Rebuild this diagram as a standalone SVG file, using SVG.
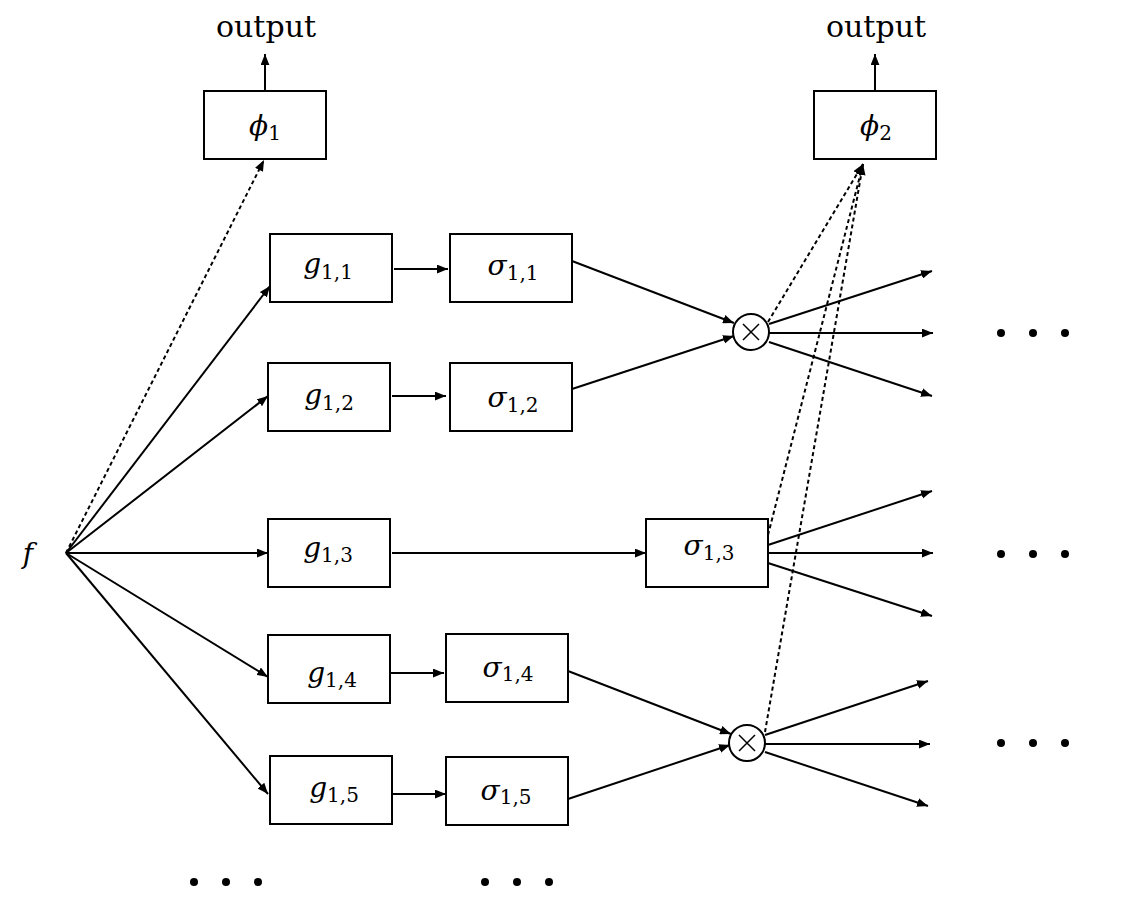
<svg xmlns="http://www.w3.org/2000/svg" width="1134" height="918" viewBox="0 0 1134 918">
<style>
.box{fill:#fff;stroke:#000;stroke-width:2}
.ln{stroke:#000;stroke-width:2;fill:none;marker-end:url(#ah)}
.dt{stroke:#000;stroke-width:2;fill:none;stroke-dasharray:4 3;marker-end:url(#ah)}
.lbl{font-family:"DejaVu Serif","Liberation Serif",serif;font-size:28px;text-anchor:middle;fill:#000}
.out{font-family:"DejaVu Serif","Liberation Serif",serif;font-size:30px;text-anchor:middle;fill:#000}
.it{font-style:italic}
.sub{font-size:20px;font-style:normal}
.dot{fill:#000}
</style>
<defs>
<marker id="ah" viewBox="0 0 10 8" refX="10" refY="4" markerWidth="11" markerHeight="9" markerUnits="userSpaceOnUse" orient="auto">
<path d="M0,0 L10,4 L0,8 z" fill="#000"/>
</marker>
</defs>
<g id="connectors">
<line class="ln" x1="265" y1="91" x2="265" y2="54"/>
<line class="ln" x1="875" y1="91" x2="875" y2="54"/>
<line class="dt" x1="66" y1="553" x2="264" y2="160"/>
<line class="ln" x1="66" y1="553" x2="270" y2="286"/>
<line class="ln" x1="66" y1="553" x2="268" y2="396"/>
<line class="ln" x1="66" y1="553" x2="268" y2="553"/>
<line class="ln" x1="66" y1="553" x2="268" y2="677"/>
<line class="ln" x1="66" y1="553" x2="268" y2="794"/>
<line class="ln" x1="394" y1="269" x2="448" y2="269"/>
<line class="ln" x1="392" y1="396" x2="446" y2="396"/>
<line class="ln" x1="392" y1="553" x2="646" y2="553"/>
<line class="ln" x1="390" y1="673" x2="444" y2="673"/>
<line class="ln" x1="392" y1="794" x2="446" y2="794"/>
<line class="ln" x1="572" y1="261" x2="734" y2="323"/>
<line class="ln" x1="572" y1="389" x2="734" y2="336"/>
<line class="ln" x1="568" y1="671" x2="731" y2="734"/>
<line class="ln" x1="568" y1="799" x2="730" y2="745"/>
<line class="ln" x1="769" y1="324" x2="932" y2="271"/>
<line class="ln" x1="769" y1="333" x2="933" y2="333"/>
<line class="ln" x1="769" y1="342" x2="932" y2="396"/>
<line class="ln" x1="768" y1="545" x2="932" y2="491"/>
<line class="ln" x1="768" y1="553" x2="933" y2="553"/>
<line class="ln" x1="768" y1="563" x2="932" y2="616"/>
<line class="ln" x1="765" y1="735" x2="928" y2="681"/>
<line class="ln" x1="765" y1="744" x2="930" y2="744"/>
<line class="ln" x1="765" y1="752" x2="928" y2="806"/>
<line class="dt" x1="768" y1="322" x2="863" y2="164"/>
<line class="dt" x1="768" y1="535" x2="863" y2="164"/>
<line class="dt" x1="765" y1="732" x2="863" y2="164"/>
</g>
<g id="phi1"><rect class="box" x="204" y="91" width="122" height="68"/><text class="lbl" x="265" y="135"><tspan class="it">ϕ</tspan><tspan class="sub" dy="5">1</tspan></text></g>
<g id="phi2"><rect class="box" x="814" y="91" width="122" height="68"/><text class="lbl" x="876" y="135"><tspan class="it">ϕ</tspan><tspan class="sub" dy="5">2</tspan></text></g>
<g id="out1"><text class="out" x="266" y="37">output</text></g>
<g id="out2"><text class="out" x="876" y="37">output</text></g>
<g id="f"><text class="lbl it" x="28" y="563" font-size="30">f</text></g>
<g id="g11"><rect class="box" x="270" y="234" width="122" height="68"/><text class="lbl" x="328" y="273"><tspan class="it">g</tspan><tspan class="sub" dy="6">1,1</tspan></text></g>
<g id="s11"><rect class="box" x="450" y="234" width="122" height="68"/><text class="lbl" x="513" y="275"><tspan class="it">σ</tspan><tspan class="sub" dy="5">1,1</tspan></text></g>
<g id="g12"><rect class="box" x="268" y="363" width="122" height="68"/><text class="lbl" x="329" y="404"><tspan class="it">g</tspan><tspan class="sub" dy="6">1,2</tspan></text></g>
<g id="s12"><rect class="box" x="450" y="363" width="122" height="68"/><text class="lbl" x="513" y="407"><tspan class="it">σ</tspan><tspan class="sub" dy="5">1,2</tspan></text></g>
<g id="g13"><rect class="box" x="268" y="519" width="122" height="68"/><text class="lbl" x="328" y="557"><tspan class="it">g</tspan><tspan class="sub" dy="5">1,3</tspan></text></g>
<g id="s13"><rect class="box" x="646" y="519" width="122" height="68"/><text class="lbl" x="709" y="555"><tspan class="it">σ</tspan><tspan class="sub" dy="5">1,3</tspan></text></g>
<g id="g14"><rect class="box" x="268" y="635" width="122" height="68"/><text class="lbl" x="332" y="682"><tspan class="it">g</tspan><tspan class="sub" dy="5">1,4</tspan></text></g>
<g id="s14"><rect class="box" x="446" y="634" width="122" height="68"/><text class="lbl" x="508" y="677"><tspan class="it">σ</tspan><tspan class="sub" dy="4">1,4</tspan></text></g>
<g id="g15"><rect class="box" x="270" y="756" width="122" height="68"/><text class="lbl" x="334" y="797"><tspan class="it">g</tspan><tspan class="sub" dy="5">1,5</tspan></text></g>
<g id="s15"><rect class="box" x="446" y="757" width="122" height="68"/><text class="lbl" x="506" y="800"><tspan class="it">σ</tspan><tspan class="sub" dy="4">1,5</tspan></text></g>
<g id="mul1"><circle class="box" cx="751" cy="332" r="18" stroke-width="1.5"/><path d="M743,324 L759,340 M759,324 L743,340" stroke="#000" stroke-width="1.5"/></g>
<g id="mul2"><circle class="box" cx="747" cy="743" r="18" stroke-width="1.5"/><path d="M739,735 L755,751 M755,735 L739,751" stroke="#000" stroke-width="1.5"/></g>
<g id="dots">
<circle class="dot" cx="1001" cy="333" r="4"/><circle class="dot" cx="1033" cy="333" r="4"/><circle class="dot" cx="1065" cy="333" r="4"/>
<circle class="dot" cx="1001" cy="554" r="4"/><circle class="dot" cx="1033" cy="554" r="4"/><circle class="dot" cx="1065" cy="554" r="4"/>
<circle class="dot" cx="1001" cy="743" r="4"/><circle class="dot" cx="1033" cy="743" r="4"/><circle class="dot" cx="1065" cy="743" r="4"/>
<circle class="dot" cx="194" cy="882" r="4"/><circle class="dot" cx="226" cy="882" r="4"/><circle class="dot" cx="258" cy="882" r="4"/>
<circle class="dot" cx="485" cy="882" r="4"/><circle class="dot" cx="517" cy="882" r="4"/><circle class="dot" cx="549" cy="882" r="4"/>
</g>
</svg>
